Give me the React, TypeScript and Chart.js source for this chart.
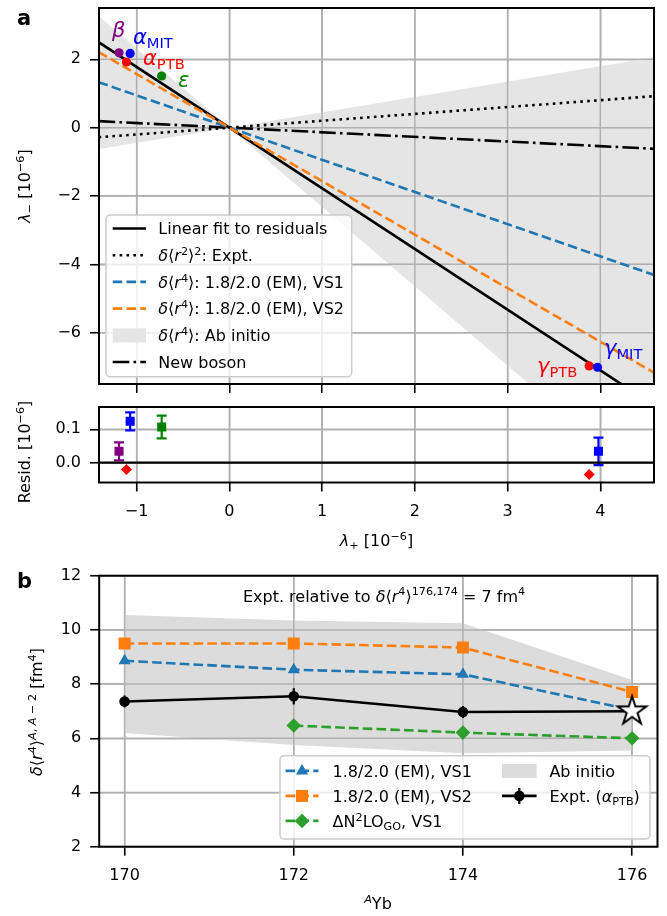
import React, { useEffect, useRef } from 'react';
import { Chart, registerables } from 'chart.js';
Chart.register(...registerables);

const FONT = '"DejaVu Sans", sans-serif';
const BLUE = '#1f77b4';
const ORANGE = '#ff7f0e';
const GREEN = '#2ca02c';
const GRID = '#b0b0b0';
const BAND_A = '#e5e5e5';
const BAND_B = '#dcdcdc';

// ---------- Panel a data ----------
const LP_TICKS = [-1, 0, 1, 2, 3, 4];
const LM_TICKS = [-6, -4, -2, 0, 2];
const LINE_X = [-1.41, 0, 4.58];
const FIT_Y = [2.5, 0, -8.13];
const R2_EXPT_Y = [-0.28, 0, 0.92];
const VS1_LINE_Y = [1.33, 0, -4.31];
const VS2_LINE_Y = [2.21, 0, -7.17];
const BOSON_Y = [0.19, 0, -0.62];
const AB_EDGE1_Y = [-0.63, 0, 2.06];
const AB_EDGE2_Y = [3.27, 0, -10.63];

const PT_NAMES = ['β', 'α_MIT', 'α_PTB', 'ε', 'γ_PTB', 'γ_MIT'];
const PT_X = [-1.19, -1.07, -1.11, -0.73, 3.88, 3.97];
const PT_Y = [2.19, 2.17, 1.92, 1.51, -6.97, -7.01];
const PT_COLORS = ['purple', 'blue', 'red', 'green', 'red', 'blue'];

// ---------- Residual data ----------
const RES_X = [-1.19, -1.07, -0.73, 3.98];
const RES_Y = [0.034, 0.124, 0.107, 0.034];
const RES_ERR = [0.027, 0.027, 0.034, 0.041];
const RES_COLORS = ['purple', 'blue', 'green', 'blue'];
const RES_PTB_X = [-1.11, 3.88];
const RES_PTB_Y = [-0.02, -0.035];
const RES_TICKS = [0, 0.1];
const ZERO_X = [-1.41, 4.58];

// ---------- Panel b data ----------
const ISOTOPES = [170, 172, 174, 176];
const VS1_B = [8.86, 8.53, 8.36, 7.05];
const VS2_B = [9.5, 9.5, 9.35, 7.71];
const N2LO_ISO = [172, 174, 176];
const N2LO_B = [6.47, 6.21, 6.0];
const EXPT_B = [7.36, 7.55, 6.97, 7.0];
const EXPT_ERR = [0.22, 0.3, 0.22, 0];
const AB_B_LOW = [6.2, 5.75, 5.45, 5.55];
const AB_B_HIGH = [10.55, 10.35, 10.25, 8.15];
const B_XTICKS = [170, 172, 174, 176];
const B_YTICKS = [2, 4, 6, 8, 10, 12];

// annotation anchors (data coords, baseline-left)
const ANNOT = [
  { main: 'β', sub: '', color: 'purple', x: -1.266, y: 2.64 },
  { main: 'α', sub: 'MIT', color: 'blue', x: -1.04, y: 2.45 },
  { main: 'α', sub: 'PTB', color: 'red', x: -0.932, y: 1.835 },
  { main: 'ε', sub: '', color: 'green', x: -0.554, y: 1.19 },
  { main: 'γ', sub: 'MIT', color: 'blue', x: 4.04, y: -6.65 },
  { main: 'γ', sub: 'PTB', color: 'red', x: 3.318, y: -7.19 },
];

type Seg = { t: string; it?: boolean; s?: 'sup' | 'sub'; bold?: boolean };

function fontFor(seg: Seg, size: number, scale: number) {
  const sz = seg.s ? size * scale : size;
  return `${seg.it ? 'italic ' : ''}${seg.bold ? 'bold ' : ''}${sz}px ${FONT}`;
}

function drawRich(ctx: CanvasRenderingContext2D, segs: Seg[], x: number, y: number, o: any = {}) {
  const size = o.size ?? 16;
  const scale = o.scale ?? 0.7;
  const supShift = (o.sup ?? 0.38) * size;
  const subShift = (o.sub ?? 0.2) * size;
  ctx.save();
  ctx.translate(x, y);
  if (o.rot) ctx.rotate(o.rot);
  ctx.fillStyle = o.color ?? '#000';
  ctx.textBaseline = 'alphabetic';
  ctx.textAlign = 'left';
  let w = 0;
  const widths = segs.map((s) => {
    ctx.font = fontFor(s, size, scale);
    const m = ctx.measureText(s.t).width;
    w += m;
    return m;
  });
  let cx = o.align === 'center' ? -w / 2 : o.align === 'right' ? -w : 0;
  segs.forEach((s, i) => {
    ctx.font = fontFor(s, size, scale);
    const dy = s.s === 'sup' ? -supShift : s.s === 'sub' ? subShift : 0;
    ctx.fillText(s.t, cx, dy);
    cx += widths[i];
  });
  ctx.restore();
}

function drawFrame(chart: any) {
  const { ctx, chartArea: a } = chart;
  ctx.save();
  ctx.strokeStyle = '#000';
  ctx.lineWidth = 2;
  ctx.strokeRect(a.left, a.top, a.right - a.left, a.bottom - a.top);
  ctx.restore();
}

function redrawGrid(chart: any, xs: number[], ys: number[]) {
  const { ctx, chartArea: a, scales } = chart;
  ctx.save();
  ctx.strokeStyle = GRID;
  ctx.lineWidth = 1.5;
  ctx.beginPath();
  xs.forEach((v) => {
    const p = scales.x.getPixelForValue(v);
    ctx.moveTo(p, a.top);
    ctx.lineTo(p, a.bottom);
  });
  ys.forEach((v) => {
    const p = scales.y.getPixelForValue(v);
    ctx.moveTo(a.left, p);
    ctx.lineTo(a.right, p);
  });
  ctx.stroke();
  ctx.restore();
}

function legendBox(ctx: CanvasRenderingContext2D, x0: number, y0: number, x1: number, y1: number) {
  ctx.save();
  ctx.beginPath();
  (ctx as any).roundRect(x0, y0, x1 - x0, y1 - y0, 4);
  ctx.fillStyle = 'rgba(255,255,255,0.8)';
  ctx.fill();
  ctx.strokeStyle = '#cccccc';
  ctx.lineWidth = 1.5;
  ctx.stroke();
  ctx.restore();
}

function hLine(ctx: CanvasRenderingContext2D, x0: number, x1: number, y: number, color: string, lw: number, dash: number[]) {
  ctx.save();
  ctx.strokeStyle = color;
  ctx.lineWidth = lw;
  ctx.setLineDash(dash);
  ctx.beginPath();
  ctx.moveTo(x0, y);
  ctx.lineTo(x1, y);
  ctx.stroke();
  ctx.restore();
}

function marker(ctx: CanvasRenderingContext2D, kind: string, x: number, y: number, r: number, color: string) {
  ctx.save();
  ctx.fillStyle = color;
  ctx.beginPath();
  if (kind === 'circle') ctx.arc(x, y, r, 0, Math.PI * 2);
  else if (kind === 'rect') {
    const s = r * Math.SQRT1_2;
    ctx.rect(x - s, y - s, 2 * s, 2 * s);
  } else if (kind === 'rectRot') {
    ctx.moveTo(x, y - r);
    ctx.lineTo(x + r, y);
    ctx.lineTo(x, y + r);
    ctx.lineTo(x - r, y);
    ctx.closePath();
  } else if (kind === 'triangle') {
    for (let i = 0; i < 3; i++) {
      const a = -Math.PI / 2 + (i * 2 * Math.PI) / 3;
      ctx.lineTo(x + r * Math.cos(a), y + r * Math.sin(a));
    }
    ctx.closePath();
  }
  ctx.fill();
  ctx.restore();
}

function makeStar(R: number) {
  const c = document.createElement('canvas');
  const s = Math.ceil(R * 2 + 6);
  c.width = s;
  c.height = s;
  const g = c.getContext('2d')!;
  g.translate(s / 2, s / 2);
  g.beginPath();
  for (let i = 0; i < 10; i++) {
    const r = i % 2 === 0 ? R : R * 0.381966;
    const a = -Math.PI / 2 + (i * Math.PI) / 5;
    g.lineTo(r * Math.cos(a), r * Math.sin(a));
  }
  g.closePath();
  g.fillStyle = '#fff';
  g.fill();
  g.strokeStyle = '#000';
  g.lineWidth = 2;
  g.stroke();
  return c;
}

const DASH = [9.6, 4.2];
const DOT = [2.6, 4.3];
const DASHDOT = [16.6, 4.2, 2.6, 4.2];
const LW = 2.6;

const fmtInt = (v: number) => (v < 0 ? '\u2212' : '') + Math.abs(v).toString();

const tickFont = { family: FONT, size: 16 };
const gridOpts = {
  color: GRID,
  lineWidth: 1.5,
  drawTicks: true,
  tickLength: 9,
  tickColor: '#000',
  tickWidth: 1.6,
};

function fixW(w: number) {
  return (s: any) => {
    s.width = w;
    s.paddingTop = 0;
    s.paddingBottom = 0;
    s.paddingLeft = 0;
    s.paddingRight = 0;
  };
}
function fixH(h: number) {
  return (s: any) => {
    s.height = h;
    s.paddingTop = 0;
    s.paddingBottom = 0;
    s.paddingLeft = 0;
    s.paddingRight = 0;
  };
}

function lineDs(xs: number[], ys: number[], color: string, dash: number[], order: number, lw = LW) {
  return {
    data: xs.map((x, i) => ({ x, y: ys[i] })),
    showLine: true,
    borderColor: color,
    borderWidth: lw,
    borderDash: dash,
    pointRadius: 0,
    fill: false,
    order,
    clip: 0,
  };
}

const baseOpts = (padding: any) => ({
  animation: false,
  responsive: false,
  devicePixelRatio: 1,
  events: [],
  layout: { padding },
  plugins: {
    legend: { display: false },
    tooltip: { enabled: false },
    filler: { drawTime: 'beforeDatasetsDraw', propagate: false },
  },
});

export default function App() {
  const aRef = useRef<HTMLCanvasElement>(null);
  const rRef = useRef<HTMLCanvasElement>(null);
  const bRef = useRef<HTMLCanvasElement>(null);

  useEffect(() => {
    const charts: Chart[] = [];

    // ---------------- Panel a ----------------
    const legendA = [
      { segs: [{ t: 'Linear fit to residuals' }], kind: 'line', color: '#000', dash: [] },
      { segs: [{ t: 'δ', it: true }, { t: '⟨' }, { t: 'r', it: true }, { t: '2', s: 'sup' }, { t: '⟩' }, { t: '2', s: 'sup' }, { t: ': Expt.' }], kind: 'line', color: '#000', dash: DOT },
      { segs: [{ t: 'δ', it: true }, { t: '⟨' }, { t: 'r', it: true }, { t: '4', s: 'sup' }, { t: '⟩: 1.8/2.0 (EM), VS1' }], kind: 'line', color: BLUE, dash: DASH },
      { segs: [{ t: 'δ', it: true }, { t: '⟨' }, { t: 'r', it: true }, { t: '4', s: 'sup' }, { t: '⟩: 1.8/2.0 (EM), VS2' }], kind: 'line', color: ORANGE, dash: DASH },
      { segs: [{ t: 'δ', it: true }, { t: '⟨' }, { t: 'r', it: true }, { t: '4', s: 'sup' }, { t: '⟩: Ab initio' }], kind: 'patch', color: BAND_A, dash: [] },
      { segs: [{ t: 'New boson' }], kind: 'line', color: '#000', dash: DASHDOT },
    ];

    const pluginA = {
      id: 'overlayA',
      beforeDatasetsDraw(chart: any) {
        redrawGrid(chart, LP_TICKS, LM_TICKS);
      },
      afterDatasetsDraw(chart: any) {
        const ctx = chart.ctx;
        const { x, y } = chart.scales;
        ANNOT.forEach((an) => {
          const segs: Seg[] = [{ t: an.main, it: true }];
          if (an.sub) segs.push({ t: an.sub, s: 'sub' });
          drawRich(ctx, segs, x.getPixelForValue(an.x), y.getPixelForValue(an.y), { size: 21, color: an.color, scale: 0.7, sub: 0.19 });
        });
        drawFrame(chart);
        // legend
        legendBox(ctx, 106, 215, 351.7, 376.7);
        legendA.forEach((e, i) => {
          const base = 234.3 + 26.7 * i;
          const yc = base - 5.8;
          if (e.kind === 'patch') {
            ctx.save();
            ctx.fillStyle = e.color;
            ctx.fillRect(112.7, yc - 7, 33.3, 14);
            ctx.restore();
          } else hLine(ctx, 112.7, 146, yc, e.color, LW, e.dash);
          drawRich(ctx, e.segs as Seg[], 158.3, base, { size: 16 });
        });
      },
      afterDraw(chart: any) {
        const ctx = chart.ctx;
        drawRich(ctx, [{ t: 'a', bold: true }], 17, 25, { size: 21 });
        drawRich(ctx, [{ t: 'λ', it: true }, { t: '−', s: 'sub' }, { t: ' [10' }, { t: '−6', s: 'sup' }, { t: ']' }], 30, 186, { size: 16, rot: -Math.PI / 2, align: 'center', sub: 0.18 });
      },
    };

    charts.push(
      new Chart(aRef.current!, {
        type: 'scatter',
        data: {
          datasets: [
            { ...lineDs(LINE_X, AB_EDGE1_Y, 'rgba(0,0,0,0)', [], 20, 0) },
            { ...lineDs(LINE_X, AB_EDGE2_Y, 'rgba(0,0,0,0)', [], 19, 0), fill: '-1', backgroundColor: BAND_A },
            lineDs(LINE_X, BOSON_Y, '#000', DASHDOT, 8),
            lineDs(LINE_X, R2_EXPT_Y, '#000', DOT, 7),
            lineDs(LINE_X, VS1_LINE_Y, BLUE, DASH, 6),
            lineDs(LINE_X, FIT_Y, '#000', [], 5),
            lineDs(LINE_X, VS2_LINE_Y, ORANGE, DASH, 4),
            {
              label: 'points',
              data: PT_X.map((x, i) => ({ x, y: PT_Y[i], name: PT_NAMES[i] })),
              showLine: false,
              pointRadius: 4.6,
              pointBackgroundColor: PT_COLORS,
              pointBorderColor: PT_COLORS,
              pointBorderWidth: 0,
              order: 0,
            },
          ],
        },
        options: {
          ...baseOpts({ left: 0, top: 8, right: 13, bottom: 0 }),
          scales: {
            x: {
              type: 'linear',
              min: -1.406,
              max: 4.579,
              bounds: 'data',
              afterBuildTicks: (s: any) => { s.ticks = LP_TICKS.map((v) => ({ value: v })); },
              afterFit: fixH(11),
              ticks: { display: false },
              grid: gridOpts,
              border: { display: false },
            },
            y: {
              type: 'linear',
              min: -7.5,
              max: 3.5,
              bounds: 'data',
              afterBuildTicks: (s: any) => { s.ticks = LM_TICKS.map((v) => ({ value: v })); },
              afterFit: fixW(99),
              ticks: { font: tickFont, color: '#000', padding: 9, autoSkip: false, callback: (v: any) => fmtInt(Number(v)) },
              grid: gridOpts,
              border: { display: false },
            },
          },
        } as any,
        plugins: [pluginA],
      } as any)
    );

    // ---------------- Residual panel ----------------
    const pluginR = {
      id: 'overlayR',
      beforeDatasetsDraw(chart: any) {
        redrawGrid(chart, LP_TICKS, RES_TICKS);
        const ctx = chart.ctx;
        const { x, y } = chart.scales;
        RES_X.forEach((xv, i) => {
          const px = x.getPixelForValue(xv);
          const y0 = y.getPixelForValue(RES_Y[i] - RES_ERR[i]);
          const y1 = y.getPixelForValue(RES_Y[i] + RES_ERR[i]);
          ctx.save();
          ctx.strokeStyle = RES_COLORS[i];
          ctx.lineWidth = 2.2;
          ctx.beginPath();
          ctx.moveTo(px, y0);
          ctx.lineTo(px, y1);
          ctx.moveTo(px - 5, y0);
          ctx.lineTo(px + 5, y0);
          ctx.moveTo(px - 5, y1);
          ctx.lineTo(px + 5, y1);
          ctx.stroke();
          ctx.restore();
        });
      },
      afterDatasetsDraw(chart: any) {
        drawFrame(chart);
      },
      afterDraw(chart: any) {
        const ctx = chart.ctx;
        drawRich(ctx, [{ t: 'Resid. [10' }, { t: '−6', s: 'sup' }, { t: ']' }], 30, 57, { size: 16, rot: -Math.PI / 2, align: 'center' });
        drawRich(ctx, [{ t: 'λ', it: true }, { t: '+', s: 'sub' }, { t: ' [10' }, { t: '−6', s: 'sup' }, { t: ']' }], 376.5, 151, { size: 16, align: 'center', sub: 0.18 });
      },
    };

    charts.push(
      new Chart(rRef.current!, {
        type: 'scatter',
        data: {
          datasets: [
            { ...lineDs(ZERO_X, [0, 0], '#000', [], 5, 2.2) },
            {
              data: RES_X.map((x, i) => ({ x, y: RES_Y[i] })),
              showLine: false,
              pointStyle: 'rect',
              pointRadius: 6.4,
              pointBackgroundColor: RES_COLORS,
              pointBorderColor: RES_COLORS,
              pointBorderWidth: 0,
              order: 1,
            },
            {
              data: RES_PTB_X.map((x, i) => ({ x, y: RES_PTB_Y[i] })),
              showLine: false,
              pointStyle: 'rectRot',
              pointRadius: 5.5,
              pointBackgroundColor: 'red',
              pointBorderColor: 'red',
              pointBorderWidth: 0,
              order: 0,
            },
          ],
        },
        options: {
          ...baseOpts({ left: 0, top: 12, right: 13, bottom: 0 }),
          scales: {
            x: {
              type: 'linear',
              min: -1.406,
              max: 4.579,
              bounds: 'data',
              afterBuildTicks: (s: any) => { s.ticks = LP_TICKS.map((v) => ({ value: v })); },
              afterFit: fixH(77.5),
              ticks: { font: tickFont, color: '#000', padding: 11, autoSkip: false, maxRotation: 0, callback: (v: any) => fmtInt(Number(v)) },
              grid: gridOpts,
              border: { display: false },
            },
            y: {
              type: 'linear',
              min: -0.0593,
              max: 0.1668,
              bounds: 'data',
              afterBuildTicks: (s: any) => { s.ticks = RES_TICKS.map((v) => ({ value: v })); },
              afterFit: fixW(99),
              ticks: { font: tickFont, color: '#000', padding: 9, autoSkip: false, callback: (v: any) => Number(v).toFixed(1) },
              grid: gridOpts,
              border: { display: false },
            },
          },
        } as any,
        plugins: [pluginR],
      } as any)
    );

    // ---------------- Panel b ----------------
    const star = makeStar(15);
    const pluginB = {
      id: 'overlayB',
      beforeDatasetsDraw(chart: any) {
        redrawGrid(chart, B_XTICKS, B_YTICKS);
        const ctx = chart.ctx;
        const { x, y } = chart.scales;
        ISOTOPES.forEach((iso, i) => {
          if (!EXPT_ERR[i]) return;
          const px = x.getPixelForValue(iso);
          ctx.save();
          ctx.strokeStyle = '#000';
          ctx.lineWidth = 2.2;
          ctx.beginPath();
          ctx.moveTo(px, y.getPixelForValue(EXPT_B[i] - EXPT_ERR[i]));
          ctx.lineTo(px, y.getPixelForValue(EXPT_B[i] + EXPT_ERR[i]));
          ctx.stroke();
          ctx.restore();
        });
      },
      afterDatasetsDraw(chart: any) {
        const ctx = chart.ctx;
        drawFrame(chart);
        drawRich(ctx, [{ t: 'Expt. relative to ' }, { t: 'δ', it: true }, { t: '⟨' }, { t: 'r', it: true }, { t: '4', s: 'sup' }, { t: '⟩' }, { t: '176,174', s: 'sup' }, { t: ' = 7 fm' }, { t: '4', s: 'sup' }], 384, 41.5, { size: 16, align: 'center' });
        // legend
        legendBox(ctx, 280, 195.7, 650, 279);
        const col1 = [
          { segs: [{ t: '1.8/2.0 (EM), VS1' }], color: BLUE, m: 'triangle', r: 7 },
          { segs: [{ t: '1.8/2.0 (EM), VS2' }], color: ORANGE, m: 'rect', r: 8.5 },
          { segs: [{ t: 'ΔN' }, { t: '2', s: 'sup' }, { t: 'LO' }, { t: 'GO', s: 'sub' }, { t: ', VS1' }], color: GREEN, m: 'rectRot', r: 7.3 },
        ];
        col1.forEach((e, i) => {
          const base = 216.7 + 25 * i;
          const yc = base - 5.8;
          hLine(ctx, 285.6, 318.5, yc, e.color, LW, DASH);
          marker(ctx, e.m, 302, yc, e.r, e.color);
          drawRich(ctx, e.segs as Seg[], 332.6, base, { size: 16 });
        });
        // col 2
        ctx.save();
        ctx.fillStyle = BAND_B;
        ctx.fillRect(502, 216.7 - 5.8 - 7, 34.6, 14);
        ctx.restore();
        drawRich(ctx, [{ t: 'Ab initio' }], 549.4, 216.7, { size: 16 });
        const yc2 = 241.7 - 5.8;
        hLine(ctx, 502, 536.6, yc2, '#000', LW, []);
        ctx.save();
        ctx.strokeStyle = '#000';
        ctx.lineWidth = 2.2;
        ctx.beginPath();
        ctx.moveTo(519.3, yc2 - 8);
        ctx.lineTo(519.3, yc2 + 8);
        ctx.stroke();
        ctx.restore();
        marker(ctx, 'circle', 519.3, yc2, 5.3, '#000');
        drawRich(ctx, [{ t: 'Expt. (' }, { t: 'α', it: true }, { t: 'PTB', s: 'sub' }, { t: ')' }], 549.4, 241.7, { size: 16, sub: 0.2 });
      },
      afterDraw(chart: any) {
        const ctx = chart.ctx;
        drawRich(ctx, [{ t: 'b', bold: true }], 17, 28, { size: 21 });
        drawRich(
          ctx,
          [
            { t: 'δ', it: true },
            { t: '⟨' },
            { t: 'r', it: true },
            { t: '4', s: 'sup' },
            { t: '⟩' },
            { t: 'A', s: 'sup', it: true },
            { t: ', ', s: 'sup' },
            { t: 'A', s: 'sup', it: true },
            { t: ' − 2', s: 'sup' },
            { t: ' [fm' },
            { t: '4', s: 'sup' },
            { t: ']' },
          ],
          42,
          152,
          { size: 16, rot: -Math.PI / 2, align: 'center' }
        );
        drawRich(ctx, [{ t: 'A', s: 'sup', it: true }, { t: 'Yb' }], 378, 349, { size: 16, align: 'center' });
      },
    };

    charts.push(
      new Chart(bRef.current!, {
        type: 'scatter',
        data: {
          datasets: [
            { ...lineDs(ISOTOPES, AB_B_LOW, 'rgba(0,0,0,0)', [], 20, 0) },
            { ...lineDs(ISOTOPES, AB_B_HIGH, 'rgba(0,0,0,0)', [], 19, 0), fill: '-1', backgroundColor: BAND_B },
            {
              ...lineDs(ISOTOPES, VS1_B, BLUE, DASH, 4),
              pointStyle: 'triangle',
              pointRadius: 7,
              pointBackgroundColor: BLUE,
              pointBorderWidth: 0,
            },
            {
              ...lineDs(ISOTOPES, VS2_B, ORANGE, DASH, 3),
              pointStyle: 'rect',
              pointRadius: 8.5,
              pointBackgroundColor: ORANGE,
              pointBorderWidth: 0,
            },
            {
              ...lineDs(N2LO_ISO, N2LO_B, GREEN, DASH, 2),
              pointStyle: 'rectRot',
              pointRadius: 7.3,
              pointBackgroundColor: GREEN,
              pointBorderWidth: 0,
            },
            {
              ...lineDs(ISOTOPES, EXPT_B, '#000', [], 1),
              pointStyle: (c: any) => (c.dataIndex === 3 ? star : 'circle'),
              pointRadius: 5.3,
              pointBackgroundColor: '#000',
              pointBorderWidth: 0,
              clip: 20,
            },
          ],
        },
        options: {
          ...baseOpts({ left: 0, top: 15.7, right: 9.5, bottom: 0 }),
          scales: {
            x: {
              type: 'linear',
              min: 169.7,
              max: 176.3,
              bounds: 'data',
              afterBuildTicks: (s: any) => { s.ticks = B_XTICKS.map((v) => ({ value: v })); },
              afterFit: fixH(69.3),
              ticks: { font: tickFont, color: '#000', padding: 11, autoSkip: false, maxRotation: 0, callback: (v: any) => String(v) },
              grid: gridOpts,
              border: { display: false },
            },
            y: {
              type: 'linear',
              min: 2,
              max: 12,
              bounds: 'data',
              afterBuildTicks: (s: any) => { s.ticks = B_YTICKS.map((v) => ({ value: v })); },
              afterFit: fixW(99.2),
              ticks: { font: tickFont, color: '#000', padding: 9, autoSkip: false, callback: (v: any) => String(v) },
              grid: gridOpts,
              border: { display: false },
            },
          },
        } as any,
        plugins: [pluginB],
      } as any)
    );

    return () => charts.forEach((c) => c.destroy());
  }, []);

  return (
    <div style={{ position: 'relative', width: 667, height: 916, background: '#fff' }}>
      <style>{'body{margin:0;}'}</style>
      <canvas ref={aRef} width={667} height={395} style={{ position: 'absolute', left: 0, top: 0 }} />
      <canvas ref={rRef} width={667} height={165} style={{ position: 'absolute', left: 0, top: 395 }} />
      <canvas ref={bRef} width={667} height={356} style={{ position: 'absolute', left: 0, top: 560 }} />
    </div>
  );
}
